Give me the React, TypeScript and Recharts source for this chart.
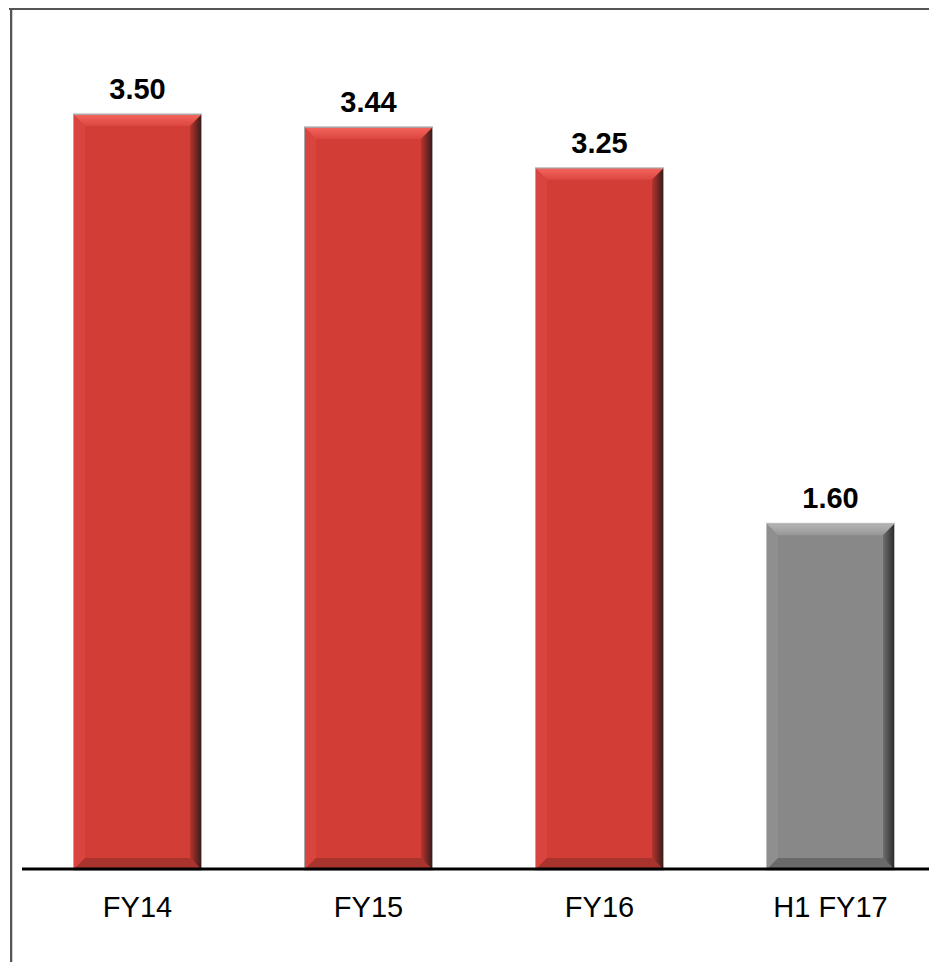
import React from 'react';
import { BarChart, Bar, XAxis, YAxis, Cell, LabelList } from 'recharts';

const categories = ['FY14', 'FY15', 'FY16', 'H1 FY17'];
const values = [3.5, 3.44, 3.25, 1.6];
const valueLabels = ['3.50', '3.44', '3.25', '1.60'];
const interim = [false, false, false, true];

const RED = '#d23d36';
const GRAY = '#888888';

// bevel tones for each bar colour
const TONES: Record<string, { top1: string; top2: string; left: string; right1: string; right2: string; bottom: string; edge: string }> = {
  [RED]: { top1: '#f2625b', top2: '#dc4740', left: '#d9453e', right1: '#b9342e', right2: '#3a1d1b', bottom: '#a9332d', edge: '#a9a9a9' },
  [GRAY]: { top1: '#b4b4b4', top2: '#969696', left: '#8f8f8f', right1: '#6e6e6e', right2: '#2e2e2e', bottom: '#6a6a6a', edge: '#bdbdbd' },
};

const data = categories.map((name, i) => ({ name, value: values[i], label: valueLabels[i], interim: interim[i] }));

const FONT = '"Liberation Sans", Arial, sans-serif';

const BevelBar = (props: any) => {
  const { x, y, width: w, height: h, fill, index } = props;
  if (!w || !h) return null;
  const t = TONES[fill] || TONES[RED];
  const b = 11;
  const id = `bev-${index}`;
  return (
    <g>
      <defs>
        <linearGradient id={`${id}-top`} x1="0" y1="0" x2="0" y2="1">
          <stop offset="0%" stopColor={t.top1} />
          <stop offset="100%" stopColor={t.top2} />
        </linearGradient>
        <linearGradient id={`${id}-right`} x1="0" y1="0" x2="1" y2="0">
          <stop offset="0%" stopColor={t.right1} />
          <stop offset="100%" stopColor={t.right2} />
        </linearGradient>
      </defs>
      <rect x={x - 1} y={y - 1.5} width={w + 2} height={h + 3} fill={t.edge} />
      <rect x={x} y={y} width={w} height={h} fill={fill} />
      <polygon points={`${x},${y} ${x + w},${y} ${x + w - b},${y + b} ${x + b},${y + b}`} fill={`url(#${id}-top)`} />
      <polygon points={`${x},${y} ${x + b},${y + b} ${x + b},${y + h - b} ${x},${y + h}`} fill={t.left} />
      <polygon points={`${x},${y + h} ${x + b},${y + h - b} ${x + w - b},${y + h - b} ${x + w},${y + h}`} fill={t.bottom} />
      <polygon points={`${x + w},${y} ${x + w},${y + h} ${x + w - b},${y + h - b} ${x + w - b},${y + b}`} fill={`url(#${id}-right)`} />
    </g>
  );
};

const ValueLabel = (props: any) => {
  const { x, y, width, value } = props;
  return (
    <text x={x + width / 2} y={y - 16} textAnchor="middle" fontFamily={FONT} fontSize={29} fontWeight="bold" fill="#000">
      {value}
    </text>
  );
};

const CategoryTick = (props: any) => {
  const { x, y, payload } = props;
  return (
    <text x={x} y={y + 48} textAnchor="middle" fontFamily={FONT} fontSize={29} fill="#000">
      {payload.value}
    </text>
  );
};

export default function App() {
  return (
    <div style={{ position: 'relative', width: 937, height: 962, marginTop: -8, marginLeft: -8, overflow: 'hidden', background: '#fff' }}>
      <div style={{ position: 'absolute', left: 0, top: 0, width: 937, height: 8, background: 'linear-gradient(#f7f7f7, #dedede)' }} />
      <div style={{ position: 'absolute', left: 9, top: 8, width: 928, height: 2, background: '#555' }} />
      <div style={{ position: 'absolute', left: 10, top: 10, width: 2, height: 952, background: '#555' }} />
      <div style={{ position: 'absolute', left: 12, top: 10, width: 1, height: 952, background: '#cfcfcf' }} />
      <div style={{ position: 'absolute', left: 0, top: 0 }}>
        <BarChart
          width={946}
          height={962}
          data={data}
          margin={{ top: 115, right: 0, bottom: 33, left: 22 }}
          barCategoryGap={52}
        >
          <XAxis
            dataKey="name"
            height={60}
            axisLine={{ stroke: '#000', strokeWidth: 3 }}
            tickLine={false}
            tickSize={0}
            tickMargin={0}
            tick={<CategoryTick />}
            interval={0}
          />
          <YAxis hide domain={[0, 3.5]} />
          <Bar dataKey="value" barSize={127} shape={<BevelBar />} isAnimationActive={false}>
            {data.map((d, i) => (
              <Cell key={d.name} fill={d.interim ? GRAY : RED} />
            ))}
            <LabelList dataKey="label" content={<ValueLabel />} />
          </Bar>
        </BarChart>
      </div>
    </div>
  );
}
